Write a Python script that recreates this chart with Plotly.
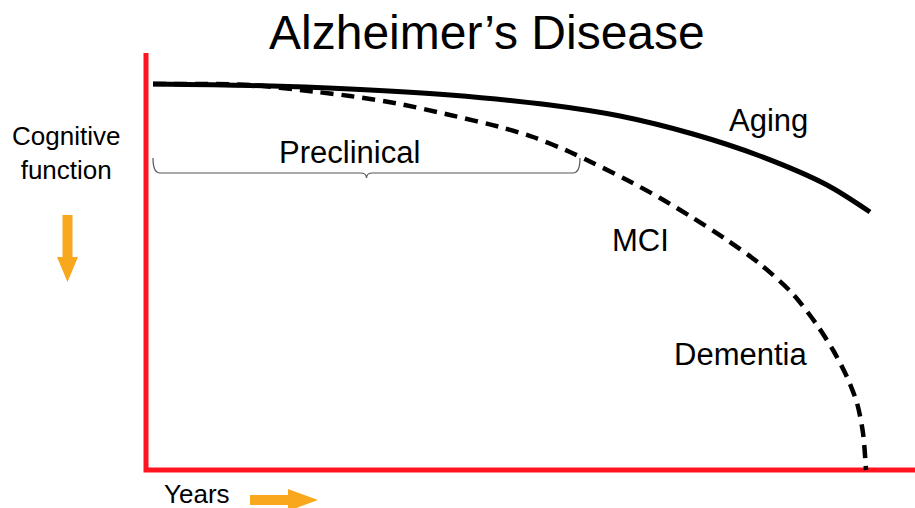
import plotly.graph_objects as go

# ---- data (arbitrary units: years from origin, cognitive function level) ----
aging_years = [7, 104, 204, 304, 404, 474, 547, 614, 681, 724]
aging_cog = [386, 384.5, 381, 375, 365, 354, 336, 314, 285, 258]

ad_years = [7, 104, 171, 204, 254, 304, 354, 387, 424, 447, 481, 514, 547,
            581, 614, 647, 671, 687, 701, 711, 717, 720]
ad_cog = [386, 385, 378, 374, 366, 355, 343, 333, 318, 307, 290, 272, 252,
          230, 206, 176, 145, 120, 93, 67, 37, 0]

preclinical_span = [7, 434]
axis_top = 417
axis_right = 769

RED = "#FF1420"
ORANGE = "#F9A81E"
FONT = "Liberation Sans, Arial, sans-serif"

fig = go.Figure()

# axes (red L)
fig.add_trace(go.Scatter(x=[0, 0, axis_right], y=[axis_top, 0, 0], mode="lines",
                         line=dict(color=RED, width=5), hoverinfo="skip"))
# aging
fig.add_trace(go.Scatter(x=aging_years, y=aging_cog, mode="lines",
                         line=dict(color="black", width=5, shape="spline", smoothing=0.8),
                         hoverinfo="skip"))
# AD trajectory
fig.add_trace(go.Scatter(x=ad_years, y=ad_cog, mode="lines",
                         line=dict(color="black", width=4.5, shape="spline", smoothing=0.8,
                                   dash="13px,8px"),
                         hoverinfo="skip"))

# brace under "Preclinical"
x0, x1 = preclinical_span
xm = (x0 + x1) / 2
yt, yb, ytip = 312, 297, 292
brace = (f"M {x0},{yt} Q {x0},{yb} {x0+7},{yb} L {xm-6},{yb} Q {xm},{yb} {xm},{ytip} "
         f"Q {xm},{yb} {xm+6},{yb} L {x1-7},{yb} Q {x1},{yb} {x1},{yt}")
shapes = [dict(type="path", path=brace, xref="x", yref="y",
               line=dict(color="#555555", width=1.2))]

# orange arrows (down and right)
def down_arrow(cx, ytop, yneck, ytip, sw, hw):
    return (f"M {cx-sw/2},{ytop} L {cx+sw/2},{ytop} L {cx+sw/2},{yneck} L {cx+hw/2},{yneck} "
            f"L {cx},{ytip} L {cx-hw/2},{yneck} L {cx-sw/2},{yneck} Z")

def right_arrow(cy, xl, xneck, xtip, sw, hw):
    return (f"M {xl},{cy-sw/2} L {xneck},{cy-sw/2} L {xneck},{cy-hw/2} L {xtip},{cy} "
            f"L {xneck},{cy+hw/2} L {xneck},{cy+sw/2} L {xl},{cy+sw/2} Z")

shapes.append(dict(type="path", path=down_arrow(-78.5, 255, 213, 188, 10, 21),
                   xref="x", yref="y", fillcolor=ORANGE, line=dict(width=0)))
shapes.append(dict(type="path", path=right_arrow(-30, 104, 142, 172, 10, 22),
                   xref="x", yref="y", fillcolor=ORANGE, line=dict(width=0)))

def ann(text, x, y, size):
    return dict(text=text, x=x, y=y, xref="x", yref="y", showarrow=False,
                xanchor="center", yanchor="middle",
                font=dict(family=FONT, size=size, color="black"))

annotations = [
    ann("Alzheimer’s Disease", 341, 438, 48),
    ann("Aging", 622, 350, 31),
    ann("Preclinical", 203, 318, 31),
    ann("MCI", 494, 230, 31),
    ann("Dementia", 594, 116, 31),
    ann("Cognitive<br>function", -80, 317, 26),
    ann("Years", 51, -24, 26),
]

fig.update_layout(
    width=915, height=508,
    margin=dict(l=0, r=0, t=0, b=0),
    paper_bgcolor="white", plot_bgcolor="white",
    showlegend=False,
    xaxis=dict(range=[-146, 769], visible=False, fixedrange=True),
    yaxis=dict(range=[-38, 470], visible=False, fixedrange=True),
    shapes=shapes,
    annotations=annotations,
)

fig.write_html("out.html", config={"displayModeBar": False},
               post_script="document.body.style.margin='0';document.body.style.overflow='hidden';")
